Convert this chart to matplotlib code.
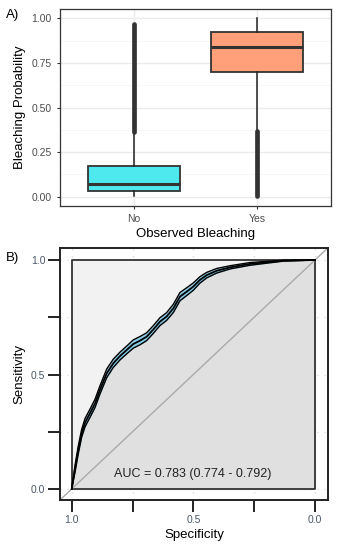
import matplotlib

matplotlib.use('Agg')

import matplotlib.pyplot as plt
import numpy as np

matplotlib.rcParams.update({'font.family': ['Liberation Sans', 'DejaVu Sans']})

# ---- panel A: boxplot data ----
groups = ['No', 'Yes']
box_q1 = [0.032, 0.700]
box_med = [0.073, 0.840]
box_q3 = [0.170, 0.925]
whisk_lo = [0.005, 0.370]
whisk_hi = [0.362, 1.000]
flier_lo = [0.365, 0.003]
flier_hi = [0.968, 0.368]
box_colors = ['#4DE9EF', '#FFA07A']

# ---- panel B: ROC curve ----
spec = [1.0, 0.986, 0.973, 0.959, 0.945, 0.925, 0.904, 0.884, 0.856, 0.829,
        0.801, 0.774, 0.747, 0.719, 0.692, 0.664, 0.637, 0.610, 0.582, 0.555,
        0.527, 0.500, 0.473, 0.445, 0.404, 0.349, 0.267, 0.199, 0.130, 0.0]
sens = [0.0, 0.09, 0.17, 0.243, 0.290, 0.330, 0.374, 0.432, 0.505, 0.549,
        0.581, 0.607, 0.633, 0.648, 0.665, 0.697, 0.731, 0.753, 0.789, 0.840,
        0.862, 0.884, 0.913, 0.934, 0.953, 0.968, 0.983, 0.990, 0.997, 1.0]
sens_lo = [0.0, 0.075, 0.153, 0.226, 0.272, 0.312, 0.356, 0.414, 0.486, 0.531,
           0.564, 0.590, 0.615, 0.630, 0.648, 0.680, 0.714, 0.736, 0.771, 0.822,
           0.845, 0.868, 0.899, 0.922, 0.943, 0.961, 0.977, 0.986, 0.995, 1.0]
sens_hi = [0.0, 0.105, 0.187, 0.260, 0.308, 0.348, 0.392, 0.450, 0.524, 0.567,
           0.598, 0.624, 0.651, 0.666, 0.682, 0.714, 0.748, 0.770, 0.807, 0.858,
           0.879, 0.900, 0.927, 0.946, 0.963, 0.975, 0.989, 0.994, 0.999, 1.0]
auc_text = 'AUC = 0.783 (0.774 - 0.792)'

fig = plt.figure(figsize=(3.37, 5.5), dpi=100)

# ================= panel A =================
ax = fig.add_axes([0.178, 0.626, 0.804, 0.358])
ax.set_xlim(0.4, 2.6)
ax.set_ylim(-0.05, 1.054)
ax.grid(True, which='major', color='#EBEBEB', linewidth=1.0)
ax.grid(True, which='minor', axis='y', color='#F4F4F4', linewidth=0.5)
ax.set_axisbelow(True)

stats = []
for i in range(len(groups)):
    stats.append({'med': box_med[i], 'q1': box_q1[i], 'q3': box_q3[i],
                  'whislo': whisk_lo[i], 'whishi': whisk_hi[i], 'fliers': []})
bp = ax.bxp(stats, positions=[1, 2], widths=0.75, patch_artist=True,
            showcaps=False, showfliers=False,
            boxprops=dict(edgecolor='#333333', linewidth=1.3),
            medianprops=dict(color='#333333', linewidth=2.2),
            whiskerprops=dict(color='#222222', linewidth=1.1))
for patch, c in zip(bp['boxes'], box_colors):
    patch.set_facecolor(c)
for i in range(len(groups)):
    ax.vlines(i + 1, flier_lo[i], flier_hi[i], color='#333333', linewidth=3.4,
              capstyle='round', zorder=3)

ax.set_xlim(0.4, 2.6)
ax.set_yticks([0, 0.25, 0.5, 0.75, 1.0])
ax.set_yticks([0.125, 0.375, 0.625, 0.875], minor=True)
ax.set_yticklabels(['0.00', '0.25', '0.50', '0.75', '1.00'])
ax.set_xticks([1, 2])
ax.set_xticklabels(groups)

for s in ax.spines.values():
    s.set_color('#333333')
    s.set_linewidth(0.9)
ax.tick_params(axis='both', which='major', colors='#333333', labelcolor='#4D4D4D',
               labelsize=7.5, length=2.5, width=0.8)
ax.tick_params(axis='both', which='minor', length=0)
ax.set_ylabel('Bleaching Probability', fontsize=9.5, labelpad=4)
ax.set_xlabel('Observed Bleaching', fontsize=9.5, labelpad=3)
fig.text(0.018, 0.972, 'A)', fontsize=9.5, va='center')

# ================= panel B =================
bx = fig.add_axes([0.178, 0.0909, 0.795, 0.4576])
bx.set_xlim(1.048, -0.053)
bx.set_ylim(-0.048, 1.051)

# dotted grid (mostly hidden by the square)
for v in [0, 0.25, 0.5, 0.75, 1.0]:
    bx.axvline(v, color='#DDDDDD', linestyle=(0, (1, 4)), linewidth=1.0, zorder=0)
    bx.axhline(v, color='#DDDDDD', linestyle=(0, (1, 4)), linewidth=1.0, zorder=0)

# square background and area under curve
bx.fill([1, 0, 0, 1], [0, 0, 1, 1], color='#F2F2F2', zorder=1)
bx.fill_between(spec, 0, sens, color='#E0E0E0', linewidth=0, zorder=1.5)
bx.plot([1, 0, 0, 1, 1], [0, 0, 1, 1, 0], color='#333333', linewidth=1.3, zorder=2)

# chance line
bx.plot([1.2, -0.2], [-0.2, 1.2], color='#AAAAAA', linewidth=1.0, zorder=2.5)

# confidence band
bx.fill_between(spec, sens_lo, sens_hi, color='#87CEEB', linewidth=0, zorder=3)
bx.plot(spec, sens_lo, color='black', linewidth=1.0, zorder=3.5)
bx.plot(spec, sens_hi, color='black', linewidth=1.0, zorder=3.5)
bx.plot(spec, sens, color='black', linewidth=1.3, zorder=4)

bx.text(0.504, 0.065, auc_text, fontsize=9, ha='center', va='center', color='#222222',
        zorder=5)

bx.set_xticks([1.0, 0.75, 0.5, 0.25, 0.0])
bx.set_xticklabels(['1.0', '', '0.5', '', '0.0'])
bx.set_yticks([0.0, 0.25, 0.5, 0.75, 1.0])
bx.set_yticklabels(['0.0', '', '0.5', '', '1.0'])
for s in bx.spines.values():
    s.set_color('#222222')
    s.set_linewidth(1.4)
bx.tick_params(axis='both', colors='#222222', labelcolor='#4A5866', labelsize=7.5,
               length=8.5, width=1.4, pad=2)
bx.set_xlabel('Specificity', fontsize=9.5, labelpad=3)
bx.set_ylabel('Sensitivity', fontsize=9.5, labelpad=4)
fig.text(0.018, 0.53, 'B)', fontsize=9.5, va='center')

fig.savefig('out.png', dpi=100)
plt.close(fig)
